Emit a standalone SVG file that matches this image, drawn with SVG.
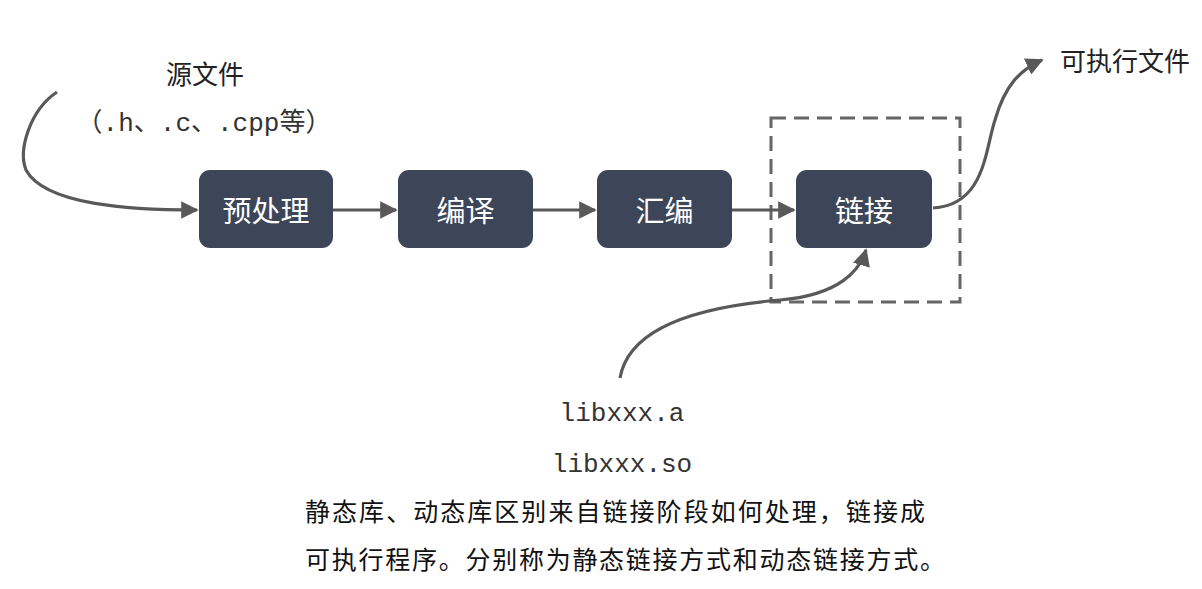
<svg xmlns="http://www.w3.org/2000/svg" width="1202" height="589" viewBox="0 0 1202 589">
<defs>
<style>
.node rect{fill:#3d4659;stroke:none}
.node text{fill:#ffffff;font-family:"Noto Sans CJK SC",sans-serif;font-size:29px;text-anchor:middle;dominant-baseline:central}
.conn path{fill:none;stroke:#595959;stroke-width:3.2}
.lbl{fill:#222;font-family:"Noto Sans CJK SC",sans-serif;font-size:26px}
.mono{fill:#333;font-family:"Liberation Mono","Noto Sans CJK SC",monospace;font-size:26px}
.note{fill:#111;font-family:"Noto Sans CJK SC",sans-serif;font-size:25px}
</style>
<marker id="arr" viewBox="0 0 10 10" refX="9" refY="5" markerWidth="5.5" markerHeight="5.5" markerUnits="strokeWidth" orient="auto">
<path d="M0,0 L10,5 L0,10 Z" fill="#595959"/>
</marker>
</defs>
<rect width="1202" height="589" fill="#ffffff"/>
<g id="link-frame">
<rect x="771" y="118" width="189" height="184" fill="none" stroke="#666666" stroke-width="3" stroke-dasharray="15,8"/>
</g>
<g class="conn" id="connectors">
<path d="M57,92 C30,110 18,150 26,170 C45,205 130,210 197,210" marker-end="url(#arr)"/>
<path d="M333,210 L396,210" marker-end="url(#arr)"/>
<path d="M533,210 L595,210" marker-end="url(#arr)"/>
<path d="M732,210 L794,210" marker-end="url(#arr)"/>
<path d="M933,208 C985,205 985,150 995,120 C1005,85 1020,70 1042,60" marker-end="url(#arr)"/>
<path d="M620,378 C630,320 720,305 780,300 C840,295 860,270 866,250" marker-end="url(#arr)"/>
</g>
<g id="n-preprocess" class="node"><rect x="199" y="170" width="134" height="78" rx="11"/><text x="266" y="209">预处理</text></g>
<g id="n-compile" class="node"><rect x="398" y="170" width="135" height="78" rx="11"/><text x="465.5" y="209">编译</text></g>
<g id="n-assemble" class="node"><rect x="597" y="170" width="135" height="78" rx="11"/><text x="664.5" y="209">汇编</text></g>
<g id="n-link" class="node"><rect x="796" y="170" width="136" height="78" rx="11"/><text x="864" y="209">链接</text></g>
<g id="labels">
<text class="lbl" x="205" y="84" text-anchor="middle">源文件</text>
<text class="mono" x="204" y="131" text-anchor="middle">（.h、.c、.cpp等）</text>
<text class="lbl" x="1060" y="71">可执行文件</text>
<text class="mono" x="622" y="421" text-anchor="middle">libxxx.a</text>
<text class="mono" x="622" y="472" text-anchor="middle">libxxx.so</text>
<text class="note" x="305" y="521" textLength="620">静态库、动态库区别来自链接阶段如何处理，链接成</text>
<text class="note" x="305" y="569" textLength="640">可执行程序。分别称为静态链接方式和动态链接方式。</text>
</g>
</svg>
